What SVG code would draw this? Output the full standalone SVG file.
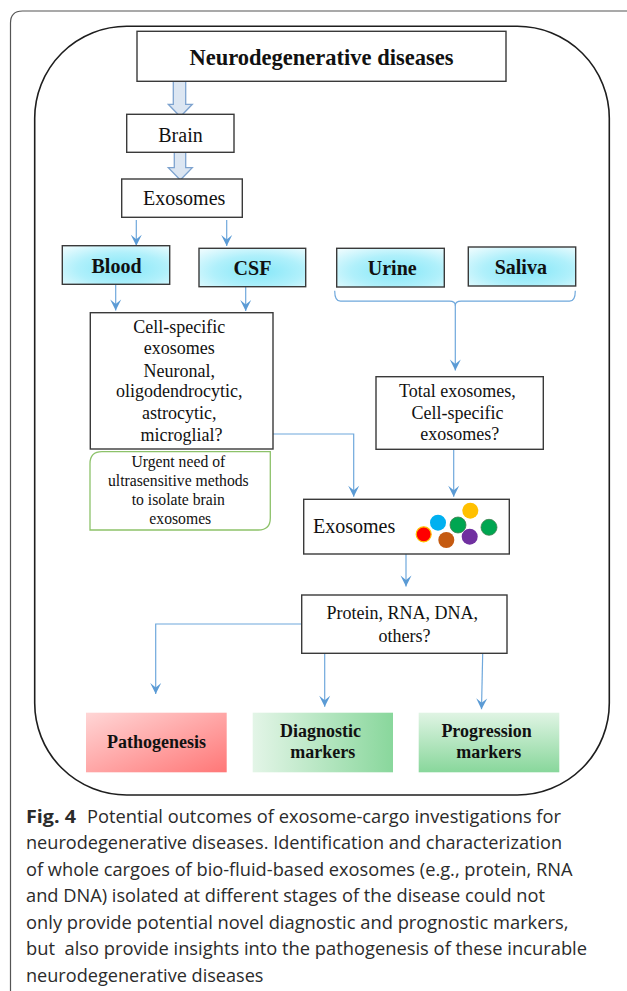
<svg xmlns="http://www.w3.org/2000/svg" width="627" height="991" viewBox="0 0 627 991">
<defs>
<style>
.box{fill:#fff;stroke:#3a3a3a;stroke-width:1.4}
.t{font-family:"Liberation Serif","Times New Roman",serif;fill:#111;text-anchor:middle}
.b{font-weight:bold}
.conn{fill:none;stroke:#6fa8dc;stroke-width:1.2}
.arr{marker-end:url(#ah)}
.block{fill:#dce6f2;stroke:#7ea3cf;stroke-width:1.3}
.cyan{fill:url(#gc);stroke:#3a3a3a;stroke-width:1.4}
.cap{font-family:"Open Sans","Noto Sans",sans-serif;font-size:18px;fill:#2b2b2b}
</style>
<marker id="ah" viewBox="-12 -6 12 12" refX="0" refY="0" markerWidth="12" markerHeight="12" markerUnits="userSpaceOnUse" orient="auto">
<path d="M0,0 L-11,-5.5 L-6.5,0 L-11,5.5 Z" fill="#5b9bd5"/>
</marker>
<radialGradient id="gc" cx="0.55" cy="0.6" r="0.75">
<stop offset="0" stop-color="#84e7f8"/>
<stop offset="0.55" stop-color="#b0f0fb"/>
<stop offset="1" stop-color="#eafbfe"/>
</radialGradient>
<linearGradient id="gr" x1="0" y1="0" x2="1" y2="1">
<stop offset="0" stop-color="#ffd6d6"/>
<stop offset="1" stop-color="#ff7777"/>
</linearGradient>
<linearGradient id="gd" x1="0" y1="0" x2="1" y2="0">
<stop offset="0" stop-color="#e3f5e7"/>
<stop offset="1" stop-color="#89d79c"/>
</linearGradient>
<linearGradient id="gp" x1="0" y1="0" x2="0" y2="1">
<stop offset="0" stop-color="#e0f4e4"/>
<stop offset="1" stop-color="#88d79b"/>
</linearGradient>
</defs>
<rect width="627" height="991" fill="#fff"/>
<path d="M10.5,991 V23 Q10.5,11 22.5,11 H627" fill="none" stroke="#555" stroke-width="1.2"/>
<rect x="34.7" y="26.3" width="574.6" height="768.7" rx="92" ry="92" fill="none" stroke="#1e1e1e" stroke-width="1.6"/>

<g id="connectors">
<path class="block" d="M173.3,81.3 V104.3 H168.3 L180.3,116.7 L192.3,104.3 H185.7 V81.3 Z"/>
<path class="block" d="M174.3,152.3 V167.7 H168.3 L180.3,180 L192.3,167.7 H185.7 V152.3 Z"/>
<line class="conn arr" x1="136.3" y1="220" x2="136.3" y2="245.7"/>
<line class="conn arr" x1="226.7" y1="220" x2="226.7" y2="246"/>
<line class="conn arr" x1="115.7" y1="284.3" x2="115.7" y2="310.5"/>
<line class="conn arr" x1="245.7" y1="286.7" x2="245.7" y2="311"/>
<path class="conn" d="M334.7,290.7 Q334.7,301.2 340.5,301.2 H449.5 Q455.3,301.2 455.3,305.5 Q455.3,301.2 461.1,301.2 H569.5 Q575.3,301.2 575.3,290.7"/>
<line class="conn arr" x1="455.3" y1="305" x2="455.3" y2="370.5"/>
<path class="conn arr" d="M273,434 H353.7 V496.7"/>
<line class="conn arr" x1="453.7" y1="449.3" x2="453.7" y2="496.7"/>
<line class="conn arr" x1="406" y1="554" x2="406" y2="586.5"/>
<path class="conn arr" d="M301.7,624 H155.7 V694"/>
<line class="conn arr" x1="324.7" y1="653.3" x2="324.7" y2="706.7"/>
<line class="conn arr" x1="482.7" y1="653.3" x2="481.5" y2="709.3"/>
</g>

<g id="n-neuro">
<rect class="box" x="137" y="31.3" width="369" height="50"/>
<text class="t b" x="321.5" y="65" font-size="22.5">Neurodegenerative diseases</text>
</g>
<g id="n-brain">
<rect class="box" x="126.7" y="114.3" width="107.3" height="38"/>
<text class="t" x="180.5" y="141.7" font-size="20">Brain</text>
</g>
<g id="n-exosomes1">
<rect class="box" x="121.7" y="179" width="120.6" height="38.3"/>
<text class="t" x="184.2" y="205" font-size="20">Exosomes</text>
</g>
<g id="n-blood">
<rect class="cyan" x="62.3" y="245.7" width="107.4" height="38.6"/>
<text class="t b" x="116.5" y="272.7" font-size="20">Blood</text>
</g>
<g id="n-csf">
<rect class="cyan" x="199" y="248.3" width="106.7" height="38.4"/>
<text class="t b" x="252.5" y="275.3" font-size="20">CSF</text>
</g>
<g id="n-urine">
<rect class="cyan" x="336.7" y="248.3" width="107.6" height="38.7"/>
<text class="t b" x="392.2" y="275.3" font-size="20">Urine</text>
</g>
<g id="n-saliva">
<rect class="cyan" x="468.3" y="247" width="107.4" height="39"/>
<text class="t b" x="520.8" y="274" font-size="20">Saliva</text>
</g>
<g id="n-cellspecific">
<rect class="box" x="90.3" y="312.7" width="182.7" height="136.3"/>
<text class="t" font-size="18">
<tspan x="181.6" y="333.3">Cell-specific</tspan>
<tspan x="181.6" y="354.3">exosomes</tspan>
<tspan x="181.6" y="376.7">Neuronal,</tspan>
<tspan x="181.6" y="397.3">oligodendrocytic,</tspan>
<tspan x="181.6" y="419.3">astrocytic,</tspan>
<tspan x="181.6" y="441">microglial?</tspan>
</text>
</g>
<g id="n-urgent">
<path d="M102,451.7 H270.3 V518 Q270.3,530 258.3,530 H90 V463.7 Q90,451.7 102,451.7 Z" fill="#fff" stroke="#8dc26a" stroke-width="1.3"/>
<text class="t" font-size="15.7">
<tspan x="180.3" y="467.3">Urgent need of</tspan>
<tspan x="180.3" y="486">ultrasensitive methods</tspan>
<tspan x="180.3" y="505">to isolate brain</tspan>
<tspan x="180.3" y="524">exosomes</tspan>
</text>
</g>
<g id="n-total">
<rect class="box" x="376" y="376.7" width="167.3" height="72.6"/>
<text class="t" font-size="18">
<tspan x="459.7" y="397.3">Total exosomes,</tspan>
<tspan x="459.7" y="419">Cell-specific</tspan>
<tspan x="459.7" y="440">exosomes?</tspan>
</text>
</g>
<g id="n-exosomes2">
<rect class="box" x="303.7" y="499.3" width="205.6" height="54.7"/>
<text class="t" x="313" y="533.3" font-size="20" style="text-anchor:start">Exosomes</text>
<circle cx="423.7" cy="534.3" r="7.5" fill="#ff0000" stroke="#ffc000" stroke-width="1.2"/>
<circle cx="438" cy="522.7" r="8" fill="#00b0f0"/>
<circle cx="458" cy="525" r="8" fill="#00a651" stroke="#3f7f4f" stroke-width="0.8"/>
<circle cx="470.3" cy="510.7" r="8" fill="#ffc000"/>
<circle cx="489" cy="527.3" r="8" fill="#00a651" stroke="#3f7f4f" stroke-width="0.8"/>
<circle cx="446.3" cy="540" r="8" fill="#c55a11"/>
<circle cx="469.7" cy="536.7" r="8" fill="#7030a0"/>
</g>
<g id="n-protein">
<rect class="box" x="301.7" y="595" width="205.3" height="58.3"/>
<text class="t" font-size="18">
<tspan x="404.5" y="619">Protein, RNA, DNA,</tspan>
<tspan x="404.5" y="641.7">others?</tspan>
</text>
</g>
<g id="n-pathogenesis">
<rect x="86" y="712.7" width="140.7" height="59.6" fill="url(#gr)"/>
<text class="t b" x="156.5" y="748.3" font-size="18">Pathogenesis</text>
</g>
<g id="n-diagnostic">
<rect x="252.7" y="712.7" width="140.3" height="59.6" fill="url(#gd)"/>
<text class="t b" font-size="18">
<tspan x="322.8" y="737.3">Diagnostic</tspan>
<tspan x="322.8" y="758.3">markers</tspan>
</text>
</g>
<g id="n-progression">
<rect x="418.7" y="712.7" width="140.6" height="59.6" fill="url(#gp)"/>
<text class="t b" font-size="18">
<tspan x="488.8" y="737.3">Progression</tspan>
<tspan x="488.8" y="758.3">markers</tspan>
</text>
</g>

<g id="caption">
<text class="cap" x="26" y="822.7" font-weight="bold" textLength="50" lengthAdjust="spacingAndGlyphs">Fig. 4</text>
<text class="cap" x="87" y="822.7" textLength="474" lengthAdjust="spacingAndGlyphs">Potential outcomes of exosome-cargo investigations for</text>
<text class="cap" x="26" y="849.2" textLength="536" lengthAdjust="spacingAndGlyphs">neurodegenerative diseases. Identification and characterization</text>
<text class="cap" x="26" y="875.7" textLength="546.5" lengthAdjust="spacingAndGlyphs">of whole cargoes of bio-fluid-based exosomes (e.g., protein, RNA</text>
<text class="cap" x="26" y="902.2" textLength="519" lengthAdjust="spacingAndGlyphs">and DNA) isolated at different stages of the disease could not</text>
<text class="cap" x="26" y="928.7" textLength="542.5" lengthAdjust="spacingAndGlyphs">only provide potential novel diagnostic and prognostic markers,</text>
<text class="cap" x="26" y="955.2" textLength="561" lengthAdjust="spacingAndGlyphs" xml:space="preserve">but  also provide insights into the pathogenesis of these incurable</text>
<text class="cap" x="26" y="981.7" textLength="237.5" lengthAdjust="spacingAndGlyphs">neurodegenerative diseases</text>
</g>
</svg>
